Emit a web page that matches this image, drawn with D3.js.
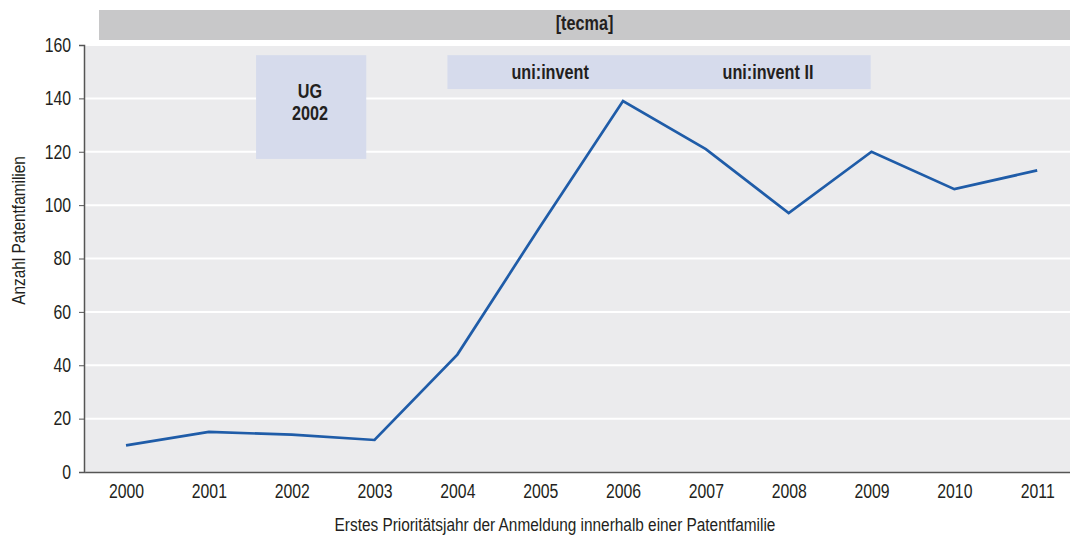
<!DOCTYPE html>
<html><head><meta charset="utf-8">
<script src="https://cdn.jsdelivr.net/npm/d3@7"></script>
<style>
body{margin:0;background:#fff;}
text{font-family:"Liberation Sans",Arial,sans-serif;}
</style></head><body>
<svg id="c" width="1070" height="535"></svg>
<script>
const years = [2000,2001,2002,2003,2004,2005,2006,2007,2008,2009,2010,2011];
const values = [10,15,14,12,44,92,139,121,97,120,106,113];
const yTicks = [0,20,40,60,80,100,120,140,160];
const title = "[tecma]";
const yLabel = "Anzahl Patentfamilien";
const xLabel = "Erstes Prioritätsjahr der Anmeldung innerhalb einer Patentfamilie";
// annotation boxes (year units / value units)
const boxes = [
  {x0:2001.57, x1:2002.90, y0:156.2, y1:117.3},
  {x0:2003.88, x1:2008.99, y0:156.2, y1:143.5}
];
const boxLabels = [
  {x:2002.22, y:140.1, t:"UG"},
  {x:2002.22, y:131.9, t:"2002"},
  {x:2005.12, y:147.3, t:"uni:invent"},
  {x:2007.75, y:147.3, t:"uni:invent II"}
];

const SX = 0.81; // condensed look
const svg = d3.select("#c");
const L=84, R=1070, T=45, B=472;
const x = d3.scaleLinear().domain([years[0]-0.5, years[years.length-1]+0.5]).range([84.6,1078.6]);
const y = d3.scaleLinear().domain([0,160]).range([B,T]);

function label(g, px, py, t, size, weight, anchor){
  return g.append("text").attr("transform",`translate(${px},${py}) scale(${SX},1)`)
    .attr("text-anchor",anchor||"middle").attr("font-size",size)
    .attr("font-weight",weight||"normal").attr("fill","#231f20").text(t);
}

// title bar
svg.append("rect").attr("x",99).attr("y",10).attr("width",R-99).attr("height",30).attr("fill","#c8c8c9");
label(svg, 584.5, 30, title, 20, "bold");

// plot bg
svg.append("rect").attr("x",L).attr("y",T).attr("width",R-L).attr("height",B-T).attr("fill","#ebebed");
svg.append("g").selectAll("line").data(yTicks.filter(d=>d>0)).join("line")
  .attr("x1",L).attr("x2",R).attr("y1",d=>y(d)).attr("y2",d=>y(d))
  .attr("stroke","#fff").attr("stroke-width",2);

// boxes
svg.append("g").selectAll("rect").data(boxes).join("rect")
  .attr("x",d=>x(d.x0)).attr("width",d=>x(d.x1)-x(d.x0))
  .attr("y",d=>y(d.y0)).attr("height",d=>y(d.y1)-y(d.y0))
  .attr("fill","#d6dbec");
const gl = svg.append("g");
boxLabels.forEach(d=>label(gl, x(d.x), y(d.y), d.t, 20, "bold"));

// axes
const yAxis = d3.axisLeft(y).tickValues(yTicks).tickSize(5).tickPadding(8);
const gy = svg.append("g").attr("transform",`translate(${L},0)`).call(yAxis);
gy.attr("font-family",null);
gy.select(".domain").attr("stroke","#555").attr("stroke-width",1.5);
gy.selectAll(".tick line").attr("stroke","#555");
gy.selectAll("text").attr("font-size",19.5).attr("fill","#231f20")
  .attr("x",-13/SX).attr("transform",`scale(${SX},1)`);

const xAxis = d3.axisBottom(x).tickValues(years).tickFormat(d3.format("d")).tickSize(0).tickPadding(12);
const gx = svg.append("g").attr("transform",`translate(0,${B})`).call(xAxis);
gx.attr("font-family",null);
gx.select(".domain").attr("stroke","#555").attr("stroke-width",1.5);
gx.selectAll("text").attr("font-size",19.5).attr("fill","#231f20")
  .attr("y",26).attr("dy",0).attr("transform",`scale(${SX},1)`);

// line
const line = d3.line().x((d,i)=>x(years[i])).y(d=>y(d));
svg.append("path").datum(values).attr("d",line).attr("fill","none")
  .attr("stroke","#1f5ca8").attr("stroke-width",2.7).attr("stroke-linejoin","miter");

// axis labels
label(svg, 555, 531, xLabel, 19);
svg.append("text").attr("transform",`translate(25,230.5) rotate(-90) scale(${SX},1)`)
  .attr("text-anchor","middle").attr("font-size",19).attr("fill","#231f20").text(yLabel);
</script></body></html>
